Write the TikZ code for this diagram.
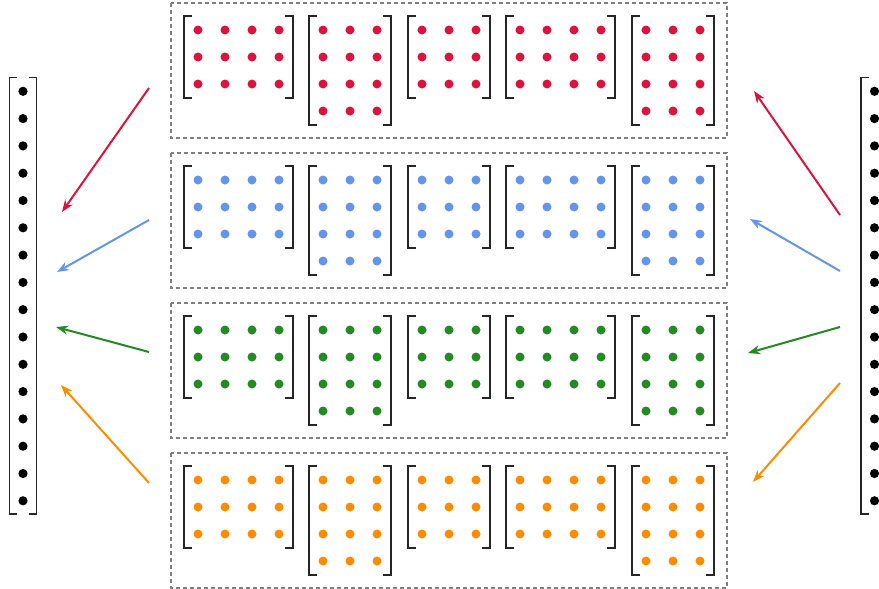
\documentclass[tikz,border=0pt]{standalone}
\usetikzlibrary{arrows.meta}
\definecolor{cred}{HTML}{DC143C}
\definecolor{cblue}{HTML}{6495ED}
\definecolor{cgreen}{HTML}{228B22}
\definecolor{corange}{HTML}{FF8C00}
\tikzset{
  brk/.style={line width=1.4pt, black!85},
  panel/.style={draw=black!50, line width=1.2pt, dash pattern=on 4pt off 3pt},
  conn/.style={line width=2pt, -{Stealth[length=12pt,width=9pt]}},
  vdot/.style={fill=black},
}
% x0, ytop (first dot), cols, rows, color
\newcommand\dotmat[5]{%
  \foreach \i in {1,...,#3}{%
    \foreach \j in {1,...,#4}{%
      \fill[#5] ({#1+(\i-1)*27},{#2+(\j-1)*27}) circle[radius=4.5];
    }%
  }%
  \draw[brk] ({#1-6},{#2-14}) -- ({#1-14},{#2-14}) -- ({#1-14},{#2+(#4-1)*27+14}) -- ({#1-6},{#2+(#4-1)*27+14});
  \draw[brk] ({#1+(#3-1)*27+6},{#2-14}) -- ({#1+(#3-1)*27+14},{#2-14}) -- ({#1+(#3-1)*27+14},{#2+(#4-1)*27+14}) -- ({#1+(#3-1)*27+6},{#2+(#4-1)*27+14});
}
\newcommand\dotpanel[2]{% y offset, color
  \draw[panel] (171,{3+#1}) rectangle (727,{138+#1});
  \dotmat{198}{30+#1}{4}{3}{#2}
  \dotmat{323}{30+#1}{3}{4}{#2}
  \dotmat{422}{30+#1}{3}{3}{#2}
  \dotmat{520}{30+#1}{4}{3}{#2}
  \dotmat{646}{30+#1}{3}{4}{#2}
}
\begin{document}
\begin{tikzpicture}[x=1pt,y=-1pt]
\useasboundingbox (0,0) rectangle (879,589);
\dotpanel{0}{cred}
\dotpanel{150}{cblue}
\dotpanel{300}{cgreen}
\dotpanel{450}{corange}
% left vector
\foreach \k in {0,...,15}{\fill[vdot] (23,{91.3+\k*27.3}) circle[radius=4.6];}
\draw[brk] (17,77.5) -- (9.5,77.5) -- (9.5,514) -- (17,514);
\draw[brk] (29,77.5) -- (36.5,77.5) -- (36.5,514) -- (29,514);
% right vector (cut by the page edge)
\foreach \k in {0,...,15}{\fill[vdot] (874.5,{91.3+\k*27.3}) circle[radius=4.6];}
\draw[brk] (868.5,77.5) -- (861,77.5) -- (861,514) -- (868.5,514);
% arrow end points
\coordinate (L1s) at (149,88);  \coordinate (L1e) at (62,212);
\coordinate (L2s) at (149,220); \coordinate (L2e) at (57,272);
\coordinate (L3s) at (149,352); \coordinate (L3e) at (56,327);
\coordinate (L4s) at (149,483); \coordinate (L4e) at (61,385);
\coordinate (R1s) at (840,215); \coordinate (R1e) at (754,91);
\coordinate (R2s) at (840,271); \coordinate (R2e) at (750,219);
\coordinate (R3s) at (840,327); \coordinate (R3e) at (748,353);
\coordinate (R4s) at (840,383); \coordinate (R4e) at (753,482);
\draw[conn,cred] (L1s) -- (L1e);
\draw[conn,cblue] (L2s) -- (L2e);
\draw[conn,cgreen] (L3s) -- (L3e);
\draw[conn,corange] (L4s) -- (L4e);
\draw[conn,cred] (R1s) -- (R1e);
\draw[conn,cblue] (R2s) -- (R2e);
\draw[conn,cgreen] (R3s) -- (R3e);
\draw[conn,corange] (R4s) -- (R4e);
\end{tikzpicture}
\end{document}
